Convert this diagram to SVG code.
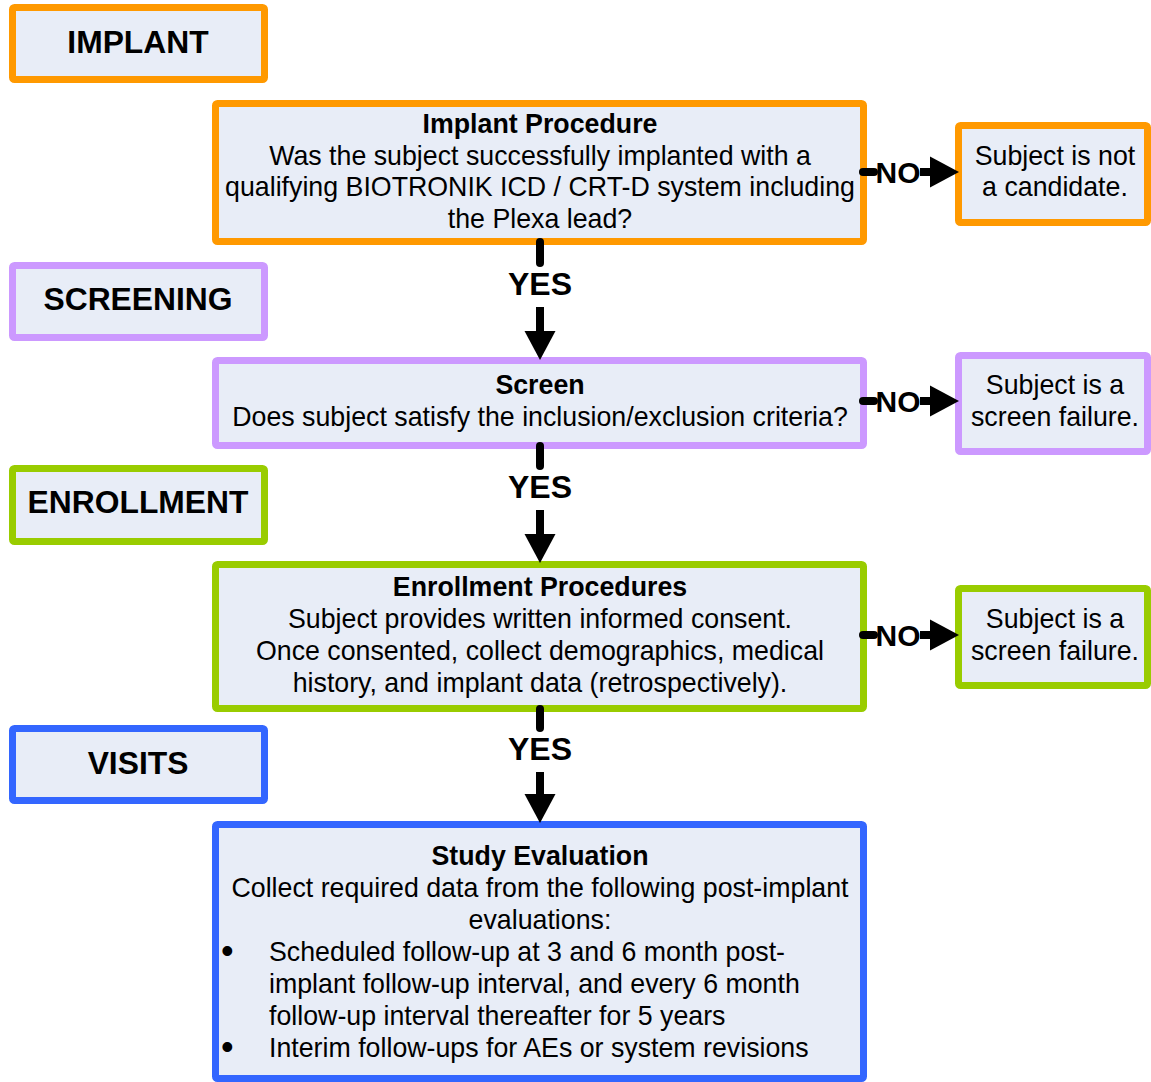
<svg xmlns="http://www.w3.org/2000/svg" width="1151" height="1082" viewBox="0 0 1151 1082">
<style>
rect{fill:#E8EDF7;stroke-width:7}
.o{stroke:#FF9900}.p{stroke:#CC99FF}.g{stroke:#99CC00}.b{stroke:#3366FF}
text{font-family:"Liberation Sans",Arial,sans-serif;fill:#000}
.t{font-size:26.75px;text-anchor:middle}
.l{font-size:26.75px}
.bu{font-size:36px}
.h{font-size:26.75px;font-weight:bold;text-anchor:middle}
.lab{font-size:31.8px;font-weight:bold;text-anchor:middle}
.yn{font-size:30px;font-weight:bold;text-anchor:middle}
.ys{font-size:32px;font-weight:bold;text-anchor:middle}
.c{fill:none;stroke:#000;stroke-width:8;stroke-linecap:round}
.a{fill:none;stroke:#000;stroke-width:8;marker-end:url(#ah)}
</style>
<defs>
<marker id="ah" markerUnits="userSpaceOnUse" markerWidth="30" markerHeight="31" refX="0" refY="15.5" orient="auto" overflow="visible">
<path d="M0,0 L29,15.5 L0,31 Z" fill="#000"/>
</marker>
</defs>
<rect width="1151" height="1082" style="fill:#fff;stroke:none"/>
<g id="label-implant"><rect class="o" x="12.5" y="7.5" width="252" height="72" rx="2"/><text class="lab" x="138" y="53">IMPLANT</text></g>
<g id="implant-procedure"><rect class="o" x="215.5" y="103.5" width="648" height="138" rx="2"/>
<text class="h" x="540" y="133">Implant Procedure</text>
<text class="t" x="540" y="165">Was the subject successfully implanted with a</text>
<text class="t" x="540" y="196">qualifying BIOTRONIK ICD / CRT-D system including</text>
<text class="t" x="540" y="228">the Plexa lead?</text></g>
<g id="not-candidate"><rect class="o" x="958.5" y="125.5" width="189" height="97" rx="2"/>
<text class="t" x="1055" y="165">Subject is not</text><text class="t" x="1055" y="196">a candidate.</text></g>
<g id="label-screening"><rect class="p" x="12.5" y="265.5" width="252" height="72" rx="2"/><text class="lab" x="138" y="310">SCREENING</text></g>
<g id="screen"><rect class="p" x="215.5" y="360.5" width="648" height="85" rx="2"/>
<text class="h" x="540" y="394">Screen</text>
<text class="t" x="540" y="426">Does subject satisfy the inclusion/exclusion criteria?</text></g>
<g id="screen-failure-1"><rect class="p" x="958.5" y="355.5" width="189" height="96" rx="2"/>
<text class="t" x="1055" y="394">Subject is a</text><text class="t" x="1055" y="426">screen failure.</text></g>
<g id="label-enrollment"><rect class="g" x="12.5" y="468.5" width="252" height="73" rx="2"/><text class="lab" x="138" y="513">ENROLLMENT</text></g>
<g id="enrollment"><rect class="g" x="215.5" y="564.5" width="648" height="144" rx="2"/>
<text class="h" x="540" y="596">Enrollment Procedures</text>
<text class="t" x="540" y="628">Subject provides written informed consent.</text>
<text class="t" x="540" y="660">Once consented, collect demographics, medical</text>
<text class="t" x="540" y="692">history, and implant data (retrospectively).</text></g>
<g id="screen-failure-2"><rect class="g" x="958.5" y="588.5" width="189" height="97" rx="2"/>
<text class="t" x="1055" y="628">Subject is a</text><text class="t" x="1055" y="660">screen failure.</text></g>
<g id="label-visits"><rect class="b" x="12.5" y="728.5" width="252" height="72" rx="2"/><text class="lab" x="138" y="774">VISITS</text></g>
<g id="study-evaluation"><rect class="b" x="215.5" y="824.5" width="648" height="254" rx="2"/>
<text class="h" x="540" y="865">Study Evaluation</text>
<text class="t" x="540" y="897">Collect required data from the following post-implant</text>
<text class="t" x="540" y="929">evaluations:</text>
<text class="bu" x="221" y="963">•</text>
<text class="l" x="269" y="961">Scheduled follow-up at 3 and 6 month post-</text>
<text class="l" x="269" y="993">implant follow-up interval, and every 6 month</text>
<text class="l" x="269" y="1025">follow-up interval thereafter for 5 years</text>
<text class="bu" x="221" y="1059">•</text>
<text class="l" x="269" y="1057">Interim follow-ups for AEs or system revisions</text></g>
<g id="connectors">
<path class="c" d="M540,242 V263"/><path class="a" d="M540,307 V331"/>
<text class="ys" x="540" y="295">YES</text>
<path class="c" d="M540,446 V466"/><path class="a" d="M540,510 V534"/>
<text class="ys" x="540" y="498">YES</text>
<path class="c" d="M540,709 V728"/><path class="a" d="M540,772 V794"/>
<text class="ys" x="540" y="760">YES</text>
<path class="c" d="M863,172 H874"/><path class="a" d="M920,172 H930"/>
<text class="yn" x="898" y="183">NO</text>
<path class="c" d="M863,401 H874"/><path class="a" d="M920,401 H930"/>
<text class="yn" x="898" y="412">NO</text>
<path class="c" d="M863,635 H874"/><path class="a" d="M920,635 H930"/>
<text class="yn" x="898" y="646">NO</text>
</g>
</svg>
